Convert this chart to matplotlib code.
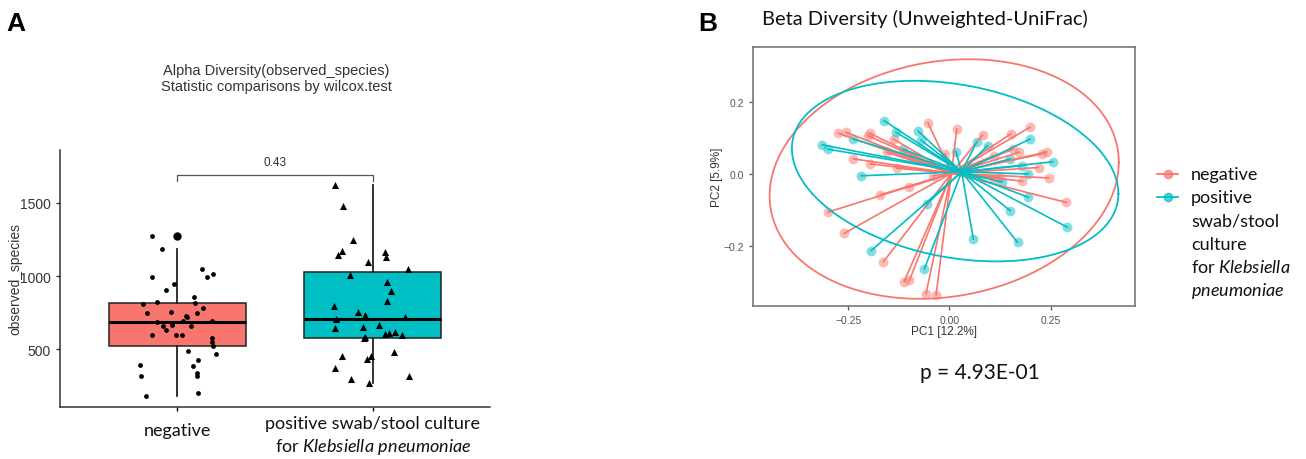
import numpy as np
import matplotlib
matplotlib.use("Agg")
import matplotlib.pyplot as plt
from matplotlib.lines import Line2D

plt.rcParams['font.family'] = ['Liberation Sans', 'DejaVu Sans']
plt.rcParams['mathtext.fontset'] = 'custom'
plt.rcParams['mathtext.rm'] = 'Lato'
plt.rcParams['mathtext.it'] = 'Lato:italic'

RED = '#F8766D'
CYAN = '#00BFC4'

# ---- panel A data: observed species per sample ----
groups = ['negative', 'positive swab/stool culture\nfor $\\it{Klebsiella\\ pneumoniae}$']
neg_species = [1276, 1185, 995, 945, 906, 1048, 995, 1011, 808, 820, 854, 815, 747, 751,
               778, 747, 724, 719, 694, 683, 660, 628, 664, 660, 689, 596, 596, 596, 575,
               524, 546, 484, 464, 390, 317, 427, 386, 336, 313, 180, 199]
neg_jitter = [-0.13, -0.078, -0.127, -0.019, -0.06, 0.127, 0.152, 0.183, -0.175, -0.102,
              0.084, 0.093, -0.157, -0.03, 0.13, 0.1, 0.046, 0.05, 0.03, -0.105, -0.071,
              -0.056, -0.029, 0.068, 0.178, -0.13, -0.004, 0.022, 0.176, 0.183, 0.18,
              0.057, 0.2, -0.193, -0.186, 0.106, 0.079, 0.1, 0.1, -0.16, 0.106]
pos_species = [1625, 1481, 1249, 1171, 1144, 1162, 1128, 1098, 1048, 1009, 961, 895, 827,
               797, 751, 733, 721, 705, 667, 642, 651, 582, 573, 603, 610, 614, 594, 482,
               454, 432, 452, 370, 297, 313, 267]
pos_jitter = [-0.194, -0.151, -0.1, -0.159, -0.176, 0.064, 0.068, -0.024, 0.183, -0.118,
              0.071, 0.093, 0.071, -0.196, -0.073, -0.037, 0.166, -0.186, 0.032, -0.193,
              -0.052, -0.041, -0.047, 0.063, 0.081, 0.115, 0.151, 0.108, -0.156, -0.03,
              -0.01, -0.193, -0.112, 0.184, -0.017]
p_alpha = '0.43'

# ---- panel B data: PCoA coordinates ----
neg_pc1 = [-0.053, 0.018, 0.082, -0.274, -0.256, -0.196, -0.2, -0.237, -0.196, -0.13,
           -0.171, -0.3, -0.26, -0.163, -0.112, -0.099, -0.058, -0.033, -0.101, -0.011,
           0.152, 0.199, 0.24, 0.228, 0.22, 0.245, 0.18, 0.288, 0.158, 0.172, 0.125,
           0.109, -0.138, -0.155, -0.04, 0.109]
neg_pc2 = [0.142, 0.125, 0.109, 0.113, 0.116, 0.113, 0.106, 0.042, 0.028, 0.016,
           -0.058, -0.106, -0.165, -0.244, -0.299, -0.296, -0.333, -0.336, -0.037, 0.056,
           0.112, 0.13, 0.061, 0.056, 0.018, -0.011, -0.02, -0.079, 0.069, 0.06, -0.009,
           -0.014, 0.097, 0.06, -0.005, 0.051]
pos_pc1 = [-0.161, -0.132, -0.077, -0.07, -0.314, -0.3, -0.237, -0.218, -0.114, 0.016,
           0.067, 0.094, 0.199, 0.255, 0.179, 0.195, 0.195, 0.15, 0.291, 0.168, 0.059,
           -0.193, -0.062, -0.056, 0.129, 0.15]
pos_pc2 = [0.148, 0.116, 0.119, 0.094, 0.081, 0.069, 0.097, -0.005, 0.069, 0.062,
           0.088, 0.079, 0.097, 0.034, 0.023, 0.0, -0.065, -0.102, -0.148, -0.19, -0.181,
           -0.213, -0.264, -0.083, -0.023, 0.042]
neg_centroid = [0.005, 0.002]
pos_centroid = [0.03, 0.006]
# ellipse: center x, center y, half-extent x, half-extent y, correlation
neg_ellipse = [-0.013, -0.014, 0.431, 0.333, 0.14]
pos_ellipse = [0.014, 0.008, 0.403, 0.251, -0.25]
p_beta = 'p = 4.93E-01'

W, H = 1306, 460
fig = plt.figure(figsize=(W / 100, H / 100), dpi=100)

def fx(px):
	return px / W

def fy(py):
	return 1 - py / H

# ================= panel A =================
axA = fig.add_axes([fx(60), fy(408), fx(430), 257.3 / H])
bp = axA.boxplot([neg_species, pos_species], positions=[1, 2], widths=0.7,
                 patch_artist=True, showcaps=False, whis=1.5,
                 flierprops=dict(marker='o', markerfacecolor='black', markeredgecolor='black', markersize=5),
                 medianprops=dict(color='black', lw=2.2),
                 whiskerprops=dict(color='#222222', lw=1.3),
                 boxprops=dict(edgecolor='#222222', lw=1.1))
for patch, col in zip(bp['boxes'], [RED, CYAN]):
	patch.set_facecolor(col)

axA.scatter(1 + np.array(neg_jitter), neg_species, s=12, color='black', marker='o', zorder=3, lw=0)
axA.scatter(2 + np.array(pos_jitter), pos_species, s=26, color='black', marker='^', zorder=3, lw=0)

# comparison bracket
axA.plot([1, 1, 2, 2], [1653, 1694, 1694, 1653], color='#555555', lw=0.9)
axA.text(1.5, 1740, p_alpha, ha='center', va='bottom', fontsize=8.5, color='#333333')

axA.set_xlim(0.4, 2.6)
axA.set_ylim(103, 1865)
axA.set_yticks([500, 1000, 1500])
axA.tick_params(axis='y', labelsize=10, colors='#333333', length=3, width=1)
axA.tick_params(axis='x', length=3, width=1, labelbottom=False)
axA.set_xticks([1, 2])
for s in ['top', 'right']:
	axA.spines[s].set_visible(False)
for s in ['left', 'bottom']:
	axA.spines[s].set_color('#333333')
	axA.spines[s].set_linewidth(1.1)
axA.set_ylabel('observed_species', fontsize=10, color='#333333', labelpad=-2)

axA.text(1, -0.09, groups[0], transform=axA.get_xaxis_transform(), ha='center', va='center',
         fontsize=13, family='Lato', color='#111111')
axA.text(2, -0.11, groups[1], transform=axA.get_xaxis_transform(), ha='center', va='center',
         fontsize=13, family='Lato', color='#111111', linespacing=1.3)

fig.text(fx(276), fy(79), 'Alpha Diversity(observed_species)\nStatistic comparisons by wilcox.test',
         ha='center', va='center', fontsize=10.5, color='#333333', linespacing=1.25)
fig.text(fx(6), fy(24), 'A', fontsize=19, weight='bold', va='center', ha='left')

# ================= panel B =================
axB = fig.add_axes([fx(753), fy(307), fx(382), 259 / H])

def ellipse_curve(p):
	t = np.linspace(0, 2 * np.pi, 300)
	cx, cy, sx, sy, rho = p
	return cx + sx * np.cos(t), cy + sy * (rho * np.cos(t) + np.sqrt(1 - rho ** 2) * np.sin(t))

for xs, ys, cen, col in [(neg_pc1, neg_pc2, neg_centroid, RED), (pos_pc1, pos_pc2, pos_centroid, CYAN)]:
	axB.scatter(xs, ys, s=50, color=col, alpha=0.5, lw=0, zorder=2)
	for x, y in zip(xs, ys):
		axB.plot([cen[0], x], [cen[1], y], color=col, lw=1.2, zorder=3)

for p, col in [(neg_ellipse, RED), (pos_ellipse, CYAN)]:
	ex, ey = ellipse_curve(p)
	axB.plot(ex, ey, color=col, lw=1.3, zorder=4)

axB.set_xlim(-0.485, 0.458)
axB.set_ylim(-0.367, 0.353)
axB.set_xticks([-0.25, 0, 0.25])
axB.set_xticklabels(['\u22120.25', '0.00', '0.25'])
axB.set_yticks([-0.2, 0, 0.2])
axB.set_yticklabels(['\u22120.2', '0.0', '0.2'])
axB.tick_params(labelsize=7.5, colors='#555555', length=3, width=0.9)
for s in axB.spines.values():
	s.set_color('#777777')
	s.set_linewidth(1.2)
axB.set_xlabel('PC1 [12.2%]', fontsize=8.5, color='#333333', labelpad=0)
axB.set_ylabel('PC2 [5.9%]', fontsize=8.5, color='#333333', labelpad=0)

fig.text(fx(925), fy(19), 'Beta Diversity (Unweighted-UniFrac)', ha='center', va='center',
         fontsize=14.5, family='Lato', color='#111111')
fig.text(fx(980), fy(373), p_beta, ha='center', va='center', fontsize=15, family='Lato', color='#111111')
fig.text(fx(698), fy(24), 'B', fontsize=19, weight='bold', va='center', ha='left')

# legend drawn by hand so the key lines up with the first text line
legend_lines = [('negative', RED), ('positive', CYAN), ('swab/stool', None), ('culture', None),
                ('for $\\it{Klebsiella}$', None), ('$\\it{pneumoniae}$', None)]
y0, step = 175, 23.2
for i, (txt, col) in enumerate(legend_lines):
	yy = fy(y0 + i * step)
	if col is not None:
		fig.add_artist(Line2D([fx(1157), fx(1178)], [yy, yy], transform=fig.transFigure, color=col, lw=1.3))
		fig.add_artist(Line2D([fx(1167.5)], [yy], transform=fig.transFigure, color=col, marker='o',
		                      markersize=6, alpha=0.7, lw=0))
	fig.text(fx(1191), yy, txt, ha='left', va='center', fontsize=13, family='Lato', color='#111111')

fig.savefig('out.png', dpi=100)
